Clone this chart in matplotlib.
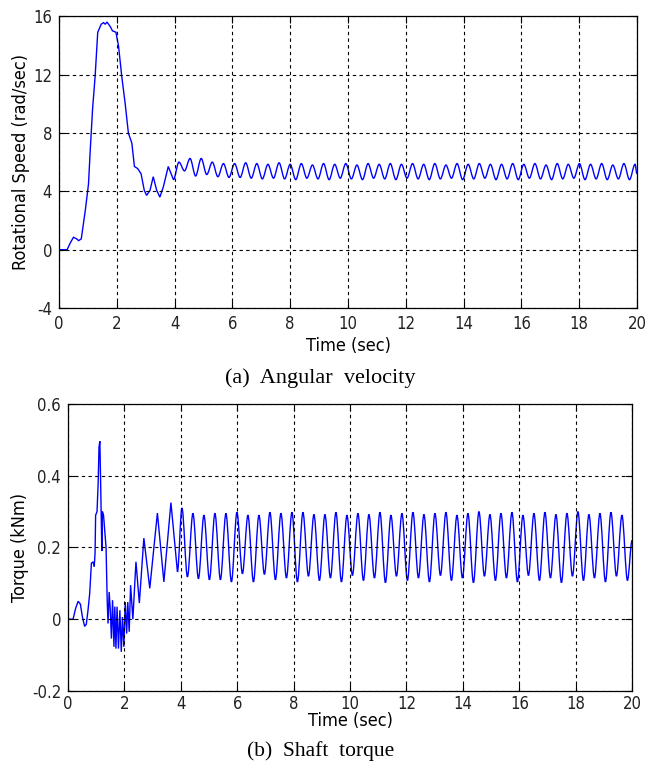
import numpy as np
import matplotlib
matplotlib.use("Agg")
import matplotlib.pyplot as plt
from matplotlib.path import Path
from matplotlib.patches import PathPatch

# (a) angular velocity, start-up part
speed_t = [0, 0.28, 0.40, 0.50, 0.60, 0.68, 0.77, 0.91, 1.02, 1.08, 1.16, 1.25,
           1.34, 1.46, 1.54, 1.60, 1.66, 1.77, 1.85, 1.97, 2.06, 2.17, 2.29,
           2.40, 2.52, 2.61, 2.72, 2.84, 2.95, 3.03, 3.15, 3.26, 3.38, 3.49,
           3.61, 3.78, 3.96]
speed_v = [0, 0, 0.5, 0.85, 0.75, 0.62, 0.74, 2.7, 4.5, 6.8, 9.6, 11.9,
           14.9, 15.45, 15.56, 15.45, 15.6, 15.3, 15.0, 14.9, 13.95, 11.9, 10.0,
           8.0, 7.3, 5.7, 5.56, 5.2, 4.07, 3.72, 4.07, 5.0, 4.07, 3.6,
           4.3, 5.7, 4.8]
# steady ripple: peaks and troughs, one every half period
speed_t0 = 4.15
speed_half = 0.1925
speed_peaks = [6.0, 6.25, 6.25, 6.0, 5.9, 5.9, 5.95, 5.9, 5.85, 5.95, 5.85, 5.9,
               5.8, 5.9, 5.85, 5.9, 5.8, 5.9, 5.85, 5.9, 5.85, 5.9, 5.85, 5.9,
               5.8, 5.9, 5.85, 5.9, 5.85, 5.85, 5.9, 5.85, 5.9, 5.8, 5.9, 5.85,
               5.9, 5.85, 5.9, 5.8, 5.9, 5.85]
speed_troughs = [5.4, 5.05, 5.15, 5.0, 4.95, 4.95, 4.9, 4.85, 4.9, 4.85, 4.8,
                 4.9, 4.85, 4.8, 4.9, 4.85, 4.8, 4.9, 4.85, 4.8, 4.9, 4.85,
                 4.8, 4.85, 4.9, 4.8, 4.85, 4.9, 4.8, 4.85, 4.8, 4.9, 4.85,
                 4.8, 4.85, 4.9, 4.8, 4.85, 4.8, 4.85, 4.8]
speed_end = (20.0, 5.2)

# (b) shaft torque, start-up part
torque_t = [0, 0.18, 0.27, 0.36, 0.44, 0.51, 0.59, 0.65, 0.71, 0.77, 0.83, 0.89,
            0.93, 0.96, 0.98, 1.03, 1.07, 1.10, 1.13, 1.16, 1.20, 1.22, 1.26,
            1.30, 1.35, 1.39, 1.42, 1.46, 1.50, 1.54, 1.58, 1.63, 1.66, 1.70,
            1.74, 1.79, 1.84, 1.89, 1.93, 1.98, 2.03, 2.08, 2.12, 2.17, 2.22,
            2.30, 2.41, 2.53, 2.69, 2.90, 3.17, 3.40, 3.65, 3.88]
torque_v = [0, 0, 0.03, 0.05, 0.042, 0.007, -0.02, -0.014, 0.025, 0.072, 0.156,
            0.16, 0.146, 0.184, 0.29, 0.30, 0.38, 0.48, 0.496, 0.37, 0.19, 0.30,
            0.29, 0.25, 0.20, 0.053, -0.012, 0.076, 0.025, -0.054, 0.053,
            -0.077, 0.035, -0.082, 0.035, -0.082, 0.025, -0.091, 0.006, -0.077,
            0.048, -0.04, 0.048, -0.035, 0.095, 0.0, 0.16, 0.045, 0.226, 0.086,
            0.296, 0.104, 0.325, 0.132]
torque_t0 = 4.04
torque_half = 0.195
torque_peaks = [0.31, 0.295, 0.29, 0.295, 0.295, 0.298, 0.29, 0.29, 0.298, 0.295,
                0.298, 0.298, 0.292, 0.292, 0.298, 0.29, 0.295, 0.292, 0.298,
                0.29, 0.295, 0.298, 0.292, 0.295, 0.298, 0.29, 0.295, 0.30,
                0.292, 0.295, 0.298, 0.29, 0.295, 0.298, 0.292, 0.295, 0.30,
                0.292, 0.295, 0.298, 0.29]
torque_troughs = [0.118, 0.113, 0.11, 0.11, 0.104, 0.127, 0.104, 0.125, 0.11,
                  0.115, 0.104, 0.12, 0.108, 0.115, 0.104, 0.122, 0.108, 0.115,
                  0.102, 0.12, 0.108, 0.115, 0.104, 0.122, 0.108, 0.115, 0.102,
                  0.12, 0.108, 0.115, 0.104, 0.122, 0.108, 0.115, 0.102, 0.12,
                  0.108, 0.115, 0.104, 0.12, 0.108]
torque_end = (20.0, 0.22)

x_ticks = list(range(0, 21, 2))
speed_ticks = [-4, 0, 4, 8, 12, 16]
torque_ticks = [-0.2, 0, 0.2, 0.4, 0.6]


def trace(ax, t_start, v_start, t0, half, peaks, troughs, end):
    """start-up as a polyline, the ripple as smooth half-waves between extremes"""
    vals = []
    for i, p in enumerate(peaks):
        vals.append(p)
        if i < len(troughs):
            vals.append(troughs[i])
    t_rip = t0 + np.arange(len(vals)) * half

    verts = list(zip(t_start, v_start))
    codes = [Path.MOVETO] + [Path.LINETO] * (len(verts) - 1)
    prev = verts[-1]
    for pt in list(zip(t_rip, vals)) + [end]:
        d = (pt[0] - prev[0]) / 3.0
        verts += [(prev[0] + d, prev[1]), (pt[0] - d, pt[1]), pt]
        codes += [Path.CURVE4] * 3
        prev = pt
    ax.add_patch(PathPatch(Path(verts, codes), fill=False,
                           edgecolor="#0000ff", lw=1.0))


plt.rcParams["font.family"] = ["DejaVu Sans"]
plt.rcParams["font.stretch"] = "condensed"


def style(ax, yticks, ylabel, xpad, xlabelpad):
    ax.set_xlim(0, 20)
    ax.set_ylim(yticks[0], yticks[-1])
    ax.set_xticks(x_ticks)
    ax.set_yticks(yticks)
    ax.set_yticklabels([f"{y:g}" for y in yticks])
    ax.grid(True, color="k", linestyle=(0, (3, 3)), linewidth=0.8)
    ax.tick_params(direction="in", top=True, right=True, length=5,
                   labelsize=12, pad=5, colors="k", labelcolor="#222222")
    ax.tick_params(axis="x", pad=xpad)
    for s in ax.spines.values():
        s.set_linewidth(0.9)
    ax.set_xlabel("Time (sec)", fontsize=13, labelpad=xlabelpad)
    ax.set_ylabel(ylabel, fontsize=13, labelpad=2)


fig = plt.figure(figsize=(6.45, 7.72), dpi=100)
ax1 = fig.add_axes([0.0915, 0.601, 0.896, 0.378])
ax2 = fig.add_axes([0.1054, 0.105, 0.8746, 0.3717])

trace(ax1, speed_t, speed_v, speed_t0, speed_half,
      speed_peaks, speed_troughs, speed_end)
style(ax1, speed_ticks, "Rotational Speed (rad/sec)", 5, 3)

trace(ax2, torque_t, torque_v, torque_t0, torque_half,
      torque_peaks, torque_troughs, torque_end)
style(ax2, torque_ticks, "Torque (kNm)", 3, -1)

cap_font = ["Liberation Serif", "DejaVu Serif"]
fig.text(0.497, 1 - 378 / 772, "(a)  Angular  velocity", ha="center",
         va="center", fontsize=16, family=cap_font, stretch="normal")
fig.text(0.497, 1 - 751 / 772, "(b)  Shaft  torque", ha="center",
         va="center", fontsize=15.5, family=cap_font, stretch="normal")

fig.savefig("out.png", dpi=100)
